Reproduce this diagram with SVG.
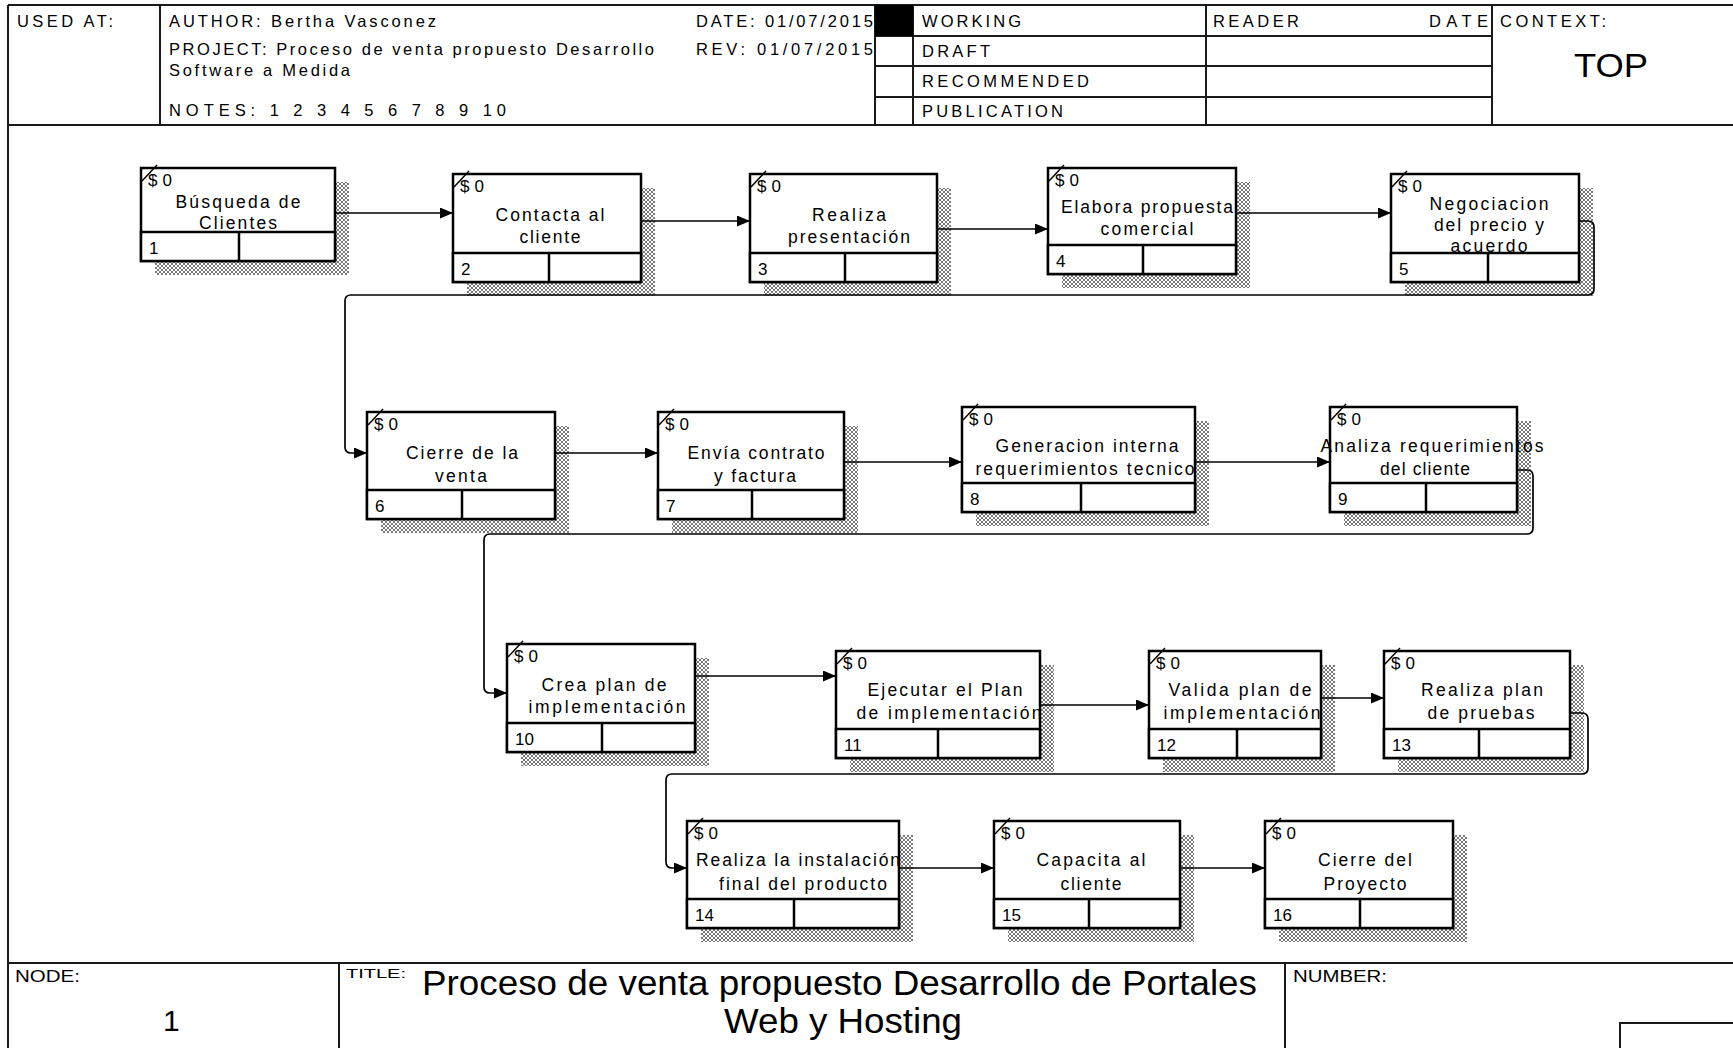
<svg xmlns="http://www.w3.org/2000/svg" width="1733" height="1048" viewBox="0 0 1733 1048">
<style>
.frame{stroke:#1a1a1a;stroke-width:2;fill:none}
.hd{font-family:"Liberation Sans",Arial,sans-serif;font-size:16.5px;fill:#000}
.box{fill:#fff;stroke:#000;stroke-width:2.5}
.cell{fill:#fff;stroke:#000;stroke-width:2.5}
.dv{stroke:#000;stroke-width:2.5}
.sh{fill:url(#hatch)}
.tick{stroke:#000;stroke-width:1.5;fill:none}
.lbl{font-family:"Liberation Sans",Arial,sans-serif;font-size:17.5px;fill:#000;text-anchor:middle}
.sm{font-family:"Liberation Sans",Arial,sans-serif;font-size:17px;fill:#000}
.con{stroke:#000;stroke-width:1.7;fill:none;marker-end:url(#arr)}
</style>
<defs>
<pattern id="hatch" patternUnits="userSpaceOnUse" width="4" height="4">
<rect width="4" height="4" fill="#fff"/>
<path d="M0,0 L4,4 M4,0 L0,4" stroke="#555" stroke-width="0.8"/>
</pattern>
<marker id="arr" markerUnits="userSpaceOnUse" markerWidth="13" markerHeight="11" refX="13" refY="5.5" orient="auto">
<path d="M0,0 L13,5.5 L0,11 z" fill="#000"/>
</marker>
</defs>
<rect width="1733" height="1048" fill="#fff"/>
<g id="frame">
<path class="frame" d="M8,5 H1733 M8,5 V1048 M8,125 H1733 M8,963 H1733 M160,5 V125 M875,5 V125 M913,5 V125 M1206,5 V125 M1492,5 V125 M875,36 H1492 M875,66 H1492 M875,97 H1492 M339,963 V1048 M1285,963 V1048 M1620,1048 V1023 H1733"/>
<rect x="875" y="5" width="38" height="31" fill="#000"/>
</g>
<g id="header-text">
<text class="hd" x="17" y="27" textLength="96" lengthAdjust="spacing">USED AT:</text>
<text class="hd" x="169" y="27" textLength="267" lengthAdjust="spacing">AUTHOR:  Bertha Vasconez</text>
<text class="hd" x="169" y="55" textLength="485" lengthAdjust="spacing">PROJECT:  Proceso de venta propuesto Desarrollo</text>
<text class="hd" x="169" y="76" textLength="181" lengthAdjust="spacing">Software a Medida</text>
<text class="hd" x="169" y="116" textLength="337" lengthAdjust="spacing">NOTES:  1  2  3  4  5  6  7  8  9  10</text>
<text class="hd" x="696" y="27" textLength="177" lengthAdjust="spacing">DATE: 01/07/2015</text>
<text class="hd" x="696" y="55" textLength="177" lengthAdjust="spacing">REV:   01/07/2015</text>
<text class="hd" x="922" y="27" textLength="99" lengthAdjust="spacing">WORKING</text>
<text class="hd" x="922" y="57" textLength="68" lengthAdjust="spacing">DRAFT</text>
<text class="hd" x="922" y="87" textLength="167" lengthAdjust="spacing">RECOMMENDED</text>
<text class="hd" x="922" y="117" textLength="141" lengthAdjust="spacing">PUBLICATION</text>
<text class="hd" x="1213" y="27" textLength="86" lengthAdjust="spacing">READER</text>
<text class="hd" x="1429" y="27" textLength="59" lengthAdjust="spacing">DATE</text>
<text class="hd" x="1500" y="27" textLength="106" lengthAdjust="spacing">CONTEXT:</text>
<text class="hd" x="1574" y="77" style="font-size:33px" textLength="74" lengthAdjust="spacingAndGlyphs">TOP</text>
</g>
<g id="footer-text">
<text class="hd" x="15" y="982" textLength="65" lengthAdjust="spacingAndGlyphs">NODE:</text>
<text class="hd" x="163" y="1031" style="font-size:30px">1</text>
<text class="hd" x="346" y="978" style="font-size:12px" textLength="60" lengthAdjust="spacingAndGlyphs">TITLE:</text>
<text class="hd" x="422" y="995" style="font-size:35px" textLength="835" lengthAdjust="spacingAndGlyphs">Proceso de venta propuesto Desarrollo de Portales</text>
<text class="hd" x="724" y="1033" style="font-size:35px" textLength="238" lengthAdjust="spacingAndGlyphs">Web y Hosting</text>
<text class="hd" x="1293" y="982" textLength="94" lengthAdjust="spacingAndGlyphs">NUMBER:</text>
</g>
<g id="n1">
<rect class="sh" x="155" y="182" width="194" height="93"/>
<rect class="box" x="141" y="168" width="194" height="93"/>
<text class="lbl" x="238" y="208" textLength="125" lengthAdjust="spacing">Búsqueda de</text>
<text class="lbl" x="238" y="229" textLength="78" lengthAdjust="spacing">Clientes</text>
<rect class="cell" x="141" y="232" width="194" height="29"/>
<line class="dv" x1="239" y1="232" x2="239" y2="261"/>
<path class="tick" d="M142,181 L157,165"/>
<text class="sm" x="148" y="186" textLength="24" lengthAdjust="spacing">$ 0</text>
<text class="sm" x="149" y="254">1</text>
</g>
<g id="n2">
<rect class="sh" x="467" y="188" width="188" height="108"/>
<rect class="box" x="453" y="174" width="188" height="108"/>
<text class="lbl" x="550" y="221" textLength="109" lengthAdjust="spacing">Contacta al</text>
<text class="lbl" x="550" y="243" textLength="61" lengthAdjust="spacing">cliente</text>
<rect class="cell" x="453" y="253" width="188" height="29"/>
<line class="dv" x1="549" y1="253" x2="549" y2="282"/>
<path class="tick" d="M454,187 L469,171"/>
<text class="sm" x="460" y="192" textLength="24" lengthAdjust="spacing">$ 0</text>
<text class="sm" x="461" y="275">2</text>
</g>
<g id="n3">
<rect class="sh" x="764" y="188" width="187" height="108"/>
<rect class="box" x="750" y="174" width="187" height="108"/>
<text class="lbl" x="849" y="221" textLength="74" lengthAdjust="spacing">Realiza</text>
<text class="lbl" x="849" y="243" textLength="122" lengthAdjust="spacing">presentación</text>
<rect class="cell" x="750" y="253" width="187" height="29"/>
<line class="dv" x1="845" y1="253" x2="845" y2="282"/>
<path class="tick" d="M751,187 L766,171"/>
<text class="sm" x="757" y="192" textLength="24" lengthAdjust="spacing">$ 0</text>
<text class="sm" x="758" y="275">3</text>
</g>
<g id="n4">
<rect class="sh" x="1062" y="182" width="188" height="106"/>
<rect class="box" x="1048" y="168" width="188" height="106"/>
<text class="lbl" x="1147" y="213" textLength="172" lengthAdjust="spacing">Elabora propuesta</text>
<text class="lbl" x="1147" y="235" textLength="93" lengthAdjust="spacing">comercial</text>
<rect class="cell" x="1048" y="245" width="188" height="29"/>
<line class="dv" x1="1143" y1="245" x2="1143" y2="274"/>
<path class="tick" d="M1049,181 L1064,165"/>
<text class="sm" x="1055" y="186" textLength="24" lengthAdjust="spacing">$ 0</text>
<text class="sm" x="1056" y="267">4</text>
</g>
<g id="n5">
<rect class="sh" x="1405" y="188" width="188" height="108"/>
<rect class="box" x="1391" y="174" width="188" height="108"/>
<text class="lbl" x="1489" y="210" textLength="119" lengthAdjust="spacing">Negociacion</text>
<text class="lbl" x="1489" y="231" textLength="110" lengthAdjust="spacing">del precio y</text>
<text class="lbl" x="1489" y="252" textLength="77" lengthAdjust="spacing">acuerdo</text>
<rect class="cell" x="1391" y="253" width="188" height="29"/>
<line class="dv" x1="1488" y1="253" x2="1488" y2="282"/>
<path class="tick" d="M1392,187 L1407,171"/>
<text class="sm" x="1398" y="192" textLength="24" lengthAdjust="spacing">$ 0</text>
<text class="sm" x="1399" y="275">5</text>
</g>
<g id="n6">
<rect class="sh" x="381" y="426" width="188" height="107"/>
<rect class="box" x="367" y="412" width="188" height="107"/>
<text class="lbl" x="462" y="459" textLength="112" lengthAdjust="spacing">Cierre de la</text>
<text class="lbl" x="461" y="482" textLength="52" lengthAdjust="spacing">venta</text>
<rect class="cell" x="367" y="490" width="188" height="29"/>
<line class="dv" x1="462" y1="490" x2="462" y2="519"/>
<path class="tick" d="M368,425 L383,409"/>
<text class="sm" x="374" y="430" textLength="24" lengthAdjust="spacing">$ 0</text>
<text class="sm" x="375" y="512">6</text>
</g>
<g id="n7">
<rect class="sh" x="672" y="426" width="186" height="107"/>
<rect class="box" x="658" y="412" width="186" height="107"/>
<text class="lbl" x="756" y="459" textLength="137" lengthAdjust="spacing">Envía contrato</text>
<text class="lbl" x="755" y="482" textLength="82" lengthAdjust="spacing">y factura</text>
<rect class="cell" x="658" y="490" width="186" height="29"/>
<line class="dv" x1="752" y1="490" x2="752" y2="519"/>
<path class="tick" d="M659,425 L674,409"/>
<text class="sm" x="665" y="430" textLength="24" lengthAdjust="spacing">$ 0</text>
<text class="sm" x="666" y="512">7</text>
</g>
<g id="n8">
<rect class="sh" x="976" y="421" width="233" height="105"/>
<rect class="box" x="962" y="407" width="233" height="105"/>
<text class="lbl" x="1087" y="452" textLength="183" lengthAdjust="spacing">Generacion interna</text>
<text class="lbl" x="1085" y="475" textLength="219" lengthAdjust="spacing">requerimientos tecnico</text>
<rect class="cell" x="962" y="483" width="233" height="29"/>
<line class="dv" x1="1081" y1="483" x2="1081" y2="512"/>
<path class="tick" d="M963,420 L978,404"/>
<text class="sm" x="969" y="425" textLength="24" lengthAdjust="spacing">$ 0</text>
<text class="sm" x="970" y="505">8</text>
</g>
<g id="n9">
<rect class="sh" x="1344" y="421" width="187" height="105"/>
<rect class="box" x="1330" y="407" width="187" height="105"/>
<text class="lbl" x="1432" y="452" textLength="223" lengthAdjust="spacing">Analiza requerimientos</text>
<text class="lbl" x="1425" y="475" textLength="90" lengthAdjust="spacing">del cliente</text>
<rect class="cell" x="1330" y="483" width="187" height="29"/>
<line class="dv" x1="1426" y1="483" x2="1426" y2="512"/>
<path class="tick" d="M1331,420 L1346,404"/>
<text class="sm" x="1337" y="425" textLength="24" lengthAdjust="spacing">$ 0</text>
<text class="sm" x="1338" y="505">9</text>
</g>
<g id="n10">
<rect class="sh" x="521" y="658" width="188" height="108"/>
<rect class="box" x="507" y="644" width="188" height="108"/>
<text class="lbl" x="604" y="691" textLength="125" lengthAdjust="spacing">Crea plan de</text>
<text class="lbl" x="607" y="713" textLength="157" lengthAdjust="spacing">implementación</text>
<rect class="cell" x="507" y="723" width="188" height="29"/>
<line class="dv" x1="602" y1="723" x2="602" y2="752"/>
<path class="tick" d="M508,657 L523,641"/>
<text class="sm" x="514" y="662" textLength="24" lengthAdjust="spacing">$ 0</text>
<text class="sm" x="515" y="745">10</text>
</g>
<g id="n11">
<rect class="sh" x="850" y="665" width="204" height="107"/>
<rect class="box" x="836" y="651" width="204" height="107"/>
<text class="lbl" x="945" y="696" textLength="155" lengthAdjust="spacing">Ejecutar el Plan</text>
<text class="lbl" x="949" y="719" textLength="185" lengthAdjust="spacing">de implementación</text>
<rect class="cell" x="836" y="729" width="204" height="29"/>
<line class="dv" x1="938" y1="729" x2="938" y2="758"/>
<path class="tick" d="M837,664 L852,648"/>
<text class="sm" x="843" y="669" textLength="24" lengthAdjust="spacing">$ 0</text>
<text class="sm" x="844" y="751">11</text>
</g>
<g id="n12">
<rect class="sh" x="1163" y="665" width="172" height="107"/>
<rect class="box" x="1149" y="651" width="172" height="107"/>
<text class="lbl" x="1240" y="696" textLength="143" lengthAdjust="spacing">Valida plan de</text>
<text class="lbl" x="1242" y="719" textLength="157" lengthAdjust="spacing">implementación</text>
<rect class="cell" x="1149" y="729" width="172" height="29"/>
<line class="dv" x1="1237" y1="729" x2="1237" y2="758"/>
<path class="tick" d="M1150,664 L1165,648"/>
<text class="sm" x="1156" y="669" textLength="24" lengthAdjust="spacing">$ 0</text>
<text class="sm" x="1157" y="751">12</text>
</g>
<g id="n13">
<rect class="sh" x="1398" y="665" width="186" height="107"/>
<rect class="box" x="1384" y="651" width="186" height="107"/>
<text class="lbl" x="1482" y="696" textLength="122" lengthAdjust="spacing">Realiza plan</text>
<text class="lbl" x="1481" y="719" textLength="107" lengthAdjust="spacing">de pruebas</text>
<rect class="cell" x="1384" y="729" width="186" height="29"/>
<line class="dv" x1="1479" y1="729" x2="1479" y2="758"/>
<path class="tick" d="M1385,664 L1400,648"/>
<text class="sm" x="1391" y="669" textLength="24" lengthAdjust="spacing">$ 0</text>
<text class="sm" x="1392" y="751">13</text>
</g>
<g id="n14">
<rect class="sh" x="701" y="835" width="212" height="107"/>
<rect class="box" x="687" y="821" width="212" height="107"/>
<text class="lbl" x="798" y="866" textLength="204" lengthAdjust="spacing">Realiza la instalación</text>
<text class="lbl" x="803" y="890" textLength="168" lengthAdjust="spacing">final del producto</text>
<rect class="cell" x="687" y="899" width="212" height="29"/>
<line class="dv" x1="794" y1="899" x2="794" y2="928"/>
<path class="tick" d="M688,834 L703,818"/>
<text class="sm" x="694" y="839" textLength="24" lengthAdjust="spacing">$ 0</text>
<text class="sm" x="695" y="921">14</text>
</g>
<g id="n15">
<rect class="sh" x="1008" y="835" width="186" height="107"/>
<rect class="box" x="994" y="821" width="186" height="107"/>
<text class="lbl" x="1091" y="866" textLength="109" lengthAdjust="spacing">Capacita al</text>
<text class="lbl" x="1091" y="890" textLength="61" lengthAdjust="spacing">cliente</text>
<rect class="cell" x="994" y="899" width="186" height="29"/>
<line class="dv" x1="1089" y1="899" x2="1089" y2="928"/>
<path class="tick" d="M995,834 L1010,818"/>
<text class="sm" x="1001" y="839" textLength="24" lengthAdjust="spacing">$ 0</text>
<text class="sm" x="1002" y="921">15</text>
</g>
<g id="n16">
<rect class="sh" x="1279" y="835" width="188" height="107"/>
<rect class="box" x="1265" y="821" width="188" height="107"/>
<text class="lbl" x="1365" y="866" textLength="94" lengthAdjust="spacing">Cierre del</text>
<text class="lbl" x="1365" y="890" textLength="83" lengthAdjust="spacing">Proyecto</text>
<rect class="cell" x="1265" y="899" width="188" height="29"/>
<line class="dv" x1="1360" y1="899" x2="1360" y2="928"/>
<path class="tick" d="M1266,834 L1281,818"/>
<text class="sm" x="1272" y="839" textLength="24" lengthAdjust="spacing">$ 0</text>
<text class="sm" x="1273" y="921">16</text>
</g>
<g id="connectors">
<path class="con" d="M335,213 H453"/>
<path class="con" d="M641,221 H750"/>
<path class="con" d="M937,229 H1048"/>
<path class="con" d="M1236,213 H1391"/>
<path class="con" d="M1579,221 H1588 Q1594,221 1594,227 V289 Q1594,295 1588,295 H351 Q345,295 345,301 V447 Q345,453 351,453 H367"/>
<path class="con" d="M555,453 H658"/>
<path class="con" d="M844,462 H962"/>
<path class="con" d="M1195,462 H1330"/>
<path class="con" d="M1517,470 H1527 Q1533,470 1533,476 V528 Q1533,534 1527,534 H490 Q484,534 484,540 V687 Q484,693 490,693 H507"/>
<path class="con" d="M695,676 H836"/>
<path class="con" d="M1040,705 H1149"/>
<path class="con" d="M1321,698 H1384"/>
<path class="con" d="M1570,713 H1582 Q1588,713 1588,719 V768 Q1588,774 1582,774 H672 Q666,774 666,780 V862 Q666,868 672,868 H687"/>
<path class="con" d="M899,868 H994"/>
<path class="con" d="M1180,868 H1265"/>
</g>
</svg>
